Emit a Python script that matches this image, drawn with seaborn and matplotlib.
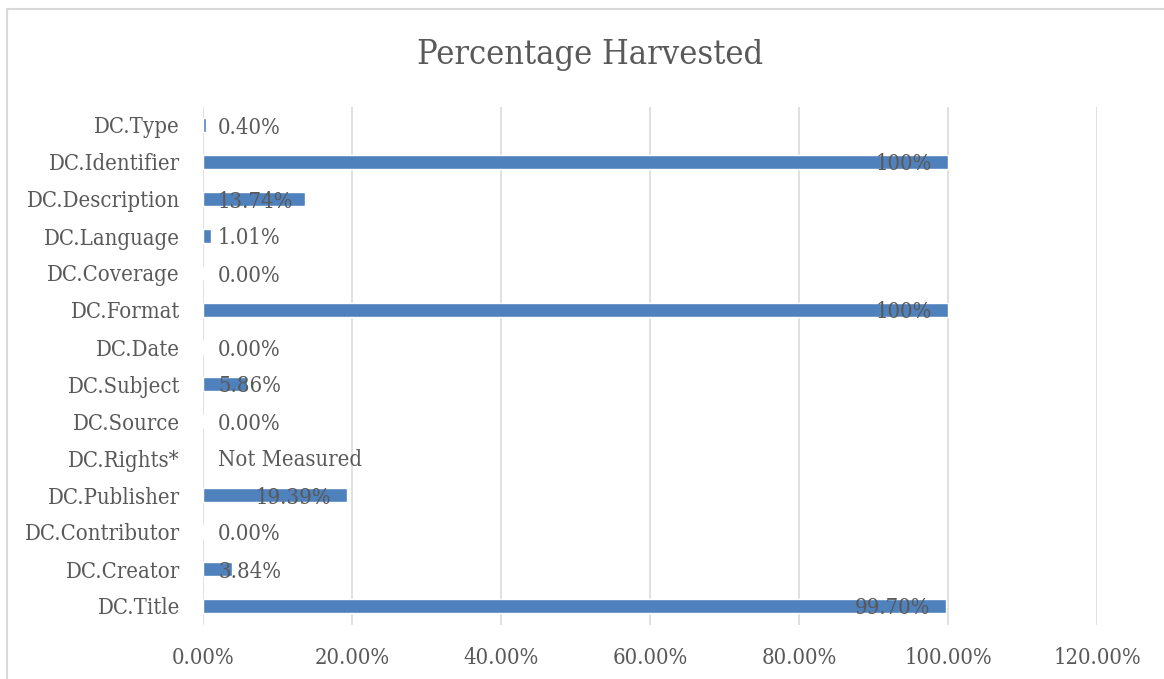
import numpy as np
import pandas as pd
import matplotlib
matplotlib.use("Agg")
import matplotlib.pyplot as plt
from matplotlib.patches import Rectangle
from matplotlib.ticker import FuncFormatter, MultipleLocator
import seaborn as sns

# Dublin Core elements, listed top to bottom
elements = ["DC.Type", "DC.Identifier", "DC.Description", "DC.Language",
            "DC.Coverage", "DC.Format", "DC.Date", "DC.Subject", "DC.Source",
            "DC.Rights*", "DC.Publisher", "DC.Contributor", "DC.Creator",
            "DC.Title"]
# percentage of records harvested per element (NaN = not measured)
harvested = [0.40, 100.0, 13.74, 1.01, 0.00, 100.0, 0.00, 5.86, 0.00,
             np.nan, 19.39, 0.00, 3.84, 99.70]
missing_label = "Not Measured"
title = "Percentage Harvested"

BAR = "#4F81BD"
TEXT = "#595959"
GRID = "#D9D9D9"

W, H, DPI = 1164, 679, 100
PX = 72.0 / DPI  # points per pixel
FS = 15.8        # tick and data-label size

df = pd.DataFrame({"element": elements, "pct": np.array(harvested) / 100.0})

sns.set_theme(style="white")
plt.rcParams["font.family"] = ["DejaVu Serif", "Liberation Serif"]
plt.rcParams["font.stretch"] = "condensed"

fig = plt.figure(figsize=(W / DPI, H / DPI), dpi=DPI)
ax = fig.add_axes([203 / W, 1 - 624.5 / H, (1097 - 203) / W, (624.5 - 106.5) / H])

sns.barplot(data=df, x="pct", y="element", order=elements, orient="h",
            color=BAR, saturation=1, width=0.38, errorbar=None, ax=ax,
            zorder=3)

ax.set_xlim(0, 1.2)
ax.set_ylim(len(elements) - 0.5, -0.5)
ax.xaxis.set_major_locator(MultipleLocator(0.2))
ax.xaxis.set_major_formatter(FuncFormatter(lambda v, _: f"{v * 100:.2f}%"))
ax.set_xlabel("")
ax.set_ylabel("")
ax.grid(axis="x", color=GRID, linewidth=1.6 * PX, zorder=0)
ax.grid(axis="y", visible=False)
ax.set_axisbelow(True)
for s in ax.spines.values():
    s.set_visible(False)
ax.tick_params(axis="both", length=0, labelsize=FS, labelcolor=TEXT)
ax.tick_params(axis="y", pad=23 * PX)
ax.tick_params(axis="x", pad=22 * PX)

fig.text(590 / W, 1 - 55 / H, title, ha="center", va="center",
         fontsize=24.6, color=TEXT)

# chart-area border
fig.add_artist(Rectangle((7 / W, -0.1), 1.2, (H - 9) / H + 0.1,
                         transform=fig.transFigure, fill=False,
                         edgecolor=GRID, linewidth=2.2 * PX, zorder=0))

# data labels: inside the bar end, or just past the axis when the bar is short
fig.canvas.draw()
renderer = fig.canvas.get_renderer()
for i, v in enumerate(harvested):
    x0 = ax.transData.transform((0, i))[0]
    kw = dict(va="center_baseline", fontsize=FS, color=TEXT, zorder=4,
              textcoords="offset points")
    if np.isnan(v):
        ax.annotate(missing_label, xy=(0, i), xytext=(15 * PX, 0),
                    ha="left", **kw)
        continue
    label = "100%" if v == 100 else f"{v:.2f}%"
    t = ax.annotate(label, xy=(v / 100.0, i), xytext=(-16 * PX, 0),
                    ha="right", **kw)
    bb = t.get_window_extent(renderer)
    if bb.x0 < x0 + 15:
        t.remove()
        ax.annotate(label, xy=(0, i), xytext=(15 * PX, 0),
                    ha="left", **kw)

fig.savefig("out.png", dpi=DPI, facecolor="white")
